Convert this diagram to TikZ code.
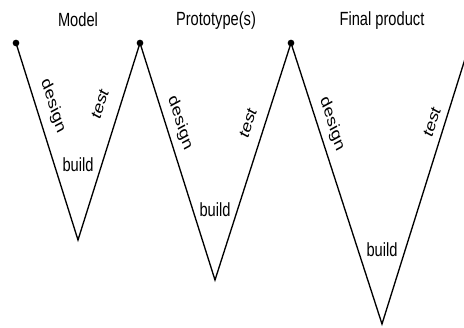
\documentclass[tikz,border=0pt]{standalone}
\usepackage{fontspec}
\setmainfont{Liberation Sans}
\begin{document}
\begin{tikzpicture}[x=0.75pt,y=-0.75pt,
  vline/.style={line width=1pt, line join=miter},
  dotnode/.style={circle, fill=black, inner sep=0pt, minimum size=5pt},
  lbl/.style={font=\fontsize{11}{13}\selectfont, inner sep=0pt, anchor=center},
  dlbl/.style={lbl, rotate=-67.5},
  tlbl/.style={lbl, rotate=67.5}]
\useasboundingbox (0,0) rectangle (464,328);
\clip (0,0) rectangle (464,328);
% vertices
\coordinate (t1) at (16,43);
\coordinate (b1) at (78,240);
\coordinate (t2) at (140,43);
\coordinate (b2) at (215,280);
\coordinate (t3) at (291,43);
\coordinate (b3) at (382,324);
\coordinate (t4) at (470,43);
% zig-zag line
\draw[vline] (t1) -- (b1) -- (t2) -- (b2) -- (t3) -- (b3) -- (t4);
% dots
\node[dotnode] (d1) at (t1) {};
\node[dotnode] (d2) at (t2) {};
\node[dotnode] (d3) at (t3) {};
% labels (text stretched vertically as in the reference)
\begin{scope}[y=-0.576923pt, yscale=1.3, transform shape]
  \node[lbl] (m) at (78,20) {Model};
  \node[lbl] (p) at (216,21) {Prototype(s)};
  \node[lbl] (f) at (382,21) {Final product};
  \node[dlbl] (des1) at (53,106) {design};
  \node[tlbl] (tes1) at (100,104) {test};
  \node[lbl] (bui1) at (78,165) {build};
  \node[dlbl] (des2) at (180,123) {design};
  \node[tlbl] (tes2) at (248,123) {test};
  \node[lbl] (bui2) at (215,210) {build};
  \node[dlbl] (des3) at (332,124) {design};
  \node[tlbl] (tes3) at (432,122) {test};
  \node[lbl] (bui3) at (382,250) {build};
\end{scope}
\end{tikzpicture}
\end{document}
